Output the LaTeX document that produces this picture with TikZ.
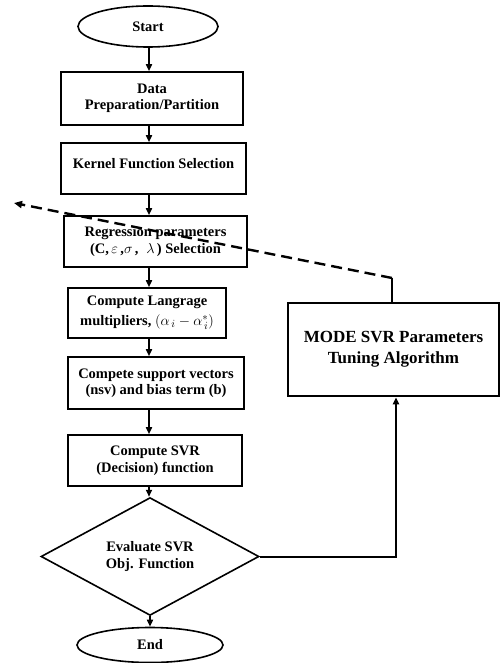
\documentclass[tikz,border=0pt]{standalone}
\usepackage{amsmath}
\usepackage{amssymb}
\usepackage{fontspec}
\setmainfont{Liberation Serif}
\usetikzlibrary{shapes.geometric,arrows.meta}

\begin{document}
\begin{tikzpicture}[x=1pt,y=-1pt,
  every node/.style={font=\bfseries\fontsize{14.5}{16.5}\selectfont, align=center, inner sep=0pt},
  term/.style={draw, ellipse, line width=1.6pt},
  box/.style={draw, rectangle, line width=1.6pt},
  test/.style={draw, diamond, line width=1.6pt},
  flow/.style={line width=1.6pt, -{Triangle[length=7pt,width=6pt]}}]
\useasboundingbox (0,0) rectangle (501,663);
\coordinate (col) at (149,0);
\coordinate (kink) at (392,278);
\coordinate (tip) at (14,203);

\node[term, minimum width=140pt, minimum height=41pt] (start) at (148,26.5) {Start};
\node[box, minimum width=182pt, minimum height=53pt] (data) at (152,98.5) {Data\\Preparation/Partition};
\node[box, minimum width=185pt, minimum height=51pt] (kernel) at (153.5,168.5) {Kernel Function Selection\\[-6pt]};
\node[box, minimum width=183pt, minimum height=51pt] (regr) at (155.5,241.5) {Regression parameters\\(C,\,$\varepsilon$\,,$\sigma$\,,\; $\lambda$\,) Selection};
\node[box, minimum width=158pt, minimum height=50pt] (lagr) at (147,313) {Compute Langrage\\[3pt]multipliers, {\fontsize{15.5}{18}\selectfont$(\alpha_{\,i} - \alpha_{\,i}^{*})$}};
\node[box, minimum width=176pt, minimum height=52pt] (svec) at (156,383) {Compete support vectors\\(nsv) and bias term (b)};
\node[box, minimum width=174pt, minimum height=51pt] (svrf) at (155,460.5) {Compute SVR\\(Decision) function};
\node[test, minimum width=218pt, minimum height=95pt] (eval) at (150,556.5) {Evaluate SVR\\Obj. Function};
\node[term, minimum width=146pt, minimum height=35pt] (end) at (150,645) {End};
\node[box, line width=2.6pt, minimum width=211pt, minimum height=93pt,
  font=\bfseries\fontsize{17}{21}\selectfont] (mode) at (393.5,349.5) {MODE SVR Parameters\\Tuning Algorithm};

\draw[flow] (start.south -| col) -- (data.north -| col);
\draw[flow] (data.south -| col) -- (kernel.north -| col);
\draw[flow] (kernel.south -| col) -- (regr.north -| col);
\draw[flow] (regr.south -| col) -- (lagr.north -| col);
\draw[flow] (lagr.south -| col) -- (svec.north -| col);
\draw[flow] (svec.south -| col) -- (svrf.north -| col);
\draw[flow] (svrf.south -| col) -- (eval.north -| col);
\draw[flow] (eval.south) -- (end.north);

\draw[flow, line width=2pt] (eval.east) -| ([xshift=2.5pt]mode.south);
\draw[line width=2pt] ([xshift=-1.5pt]mode.north) -- (kink);
\draw[line width=2.4pt, dash pattern=on 11pt off 6pt, -{Triangle[length=8pt,width=7pt]}] (kink) -- (tip);
\end{tikzpicture}
\end{document}
